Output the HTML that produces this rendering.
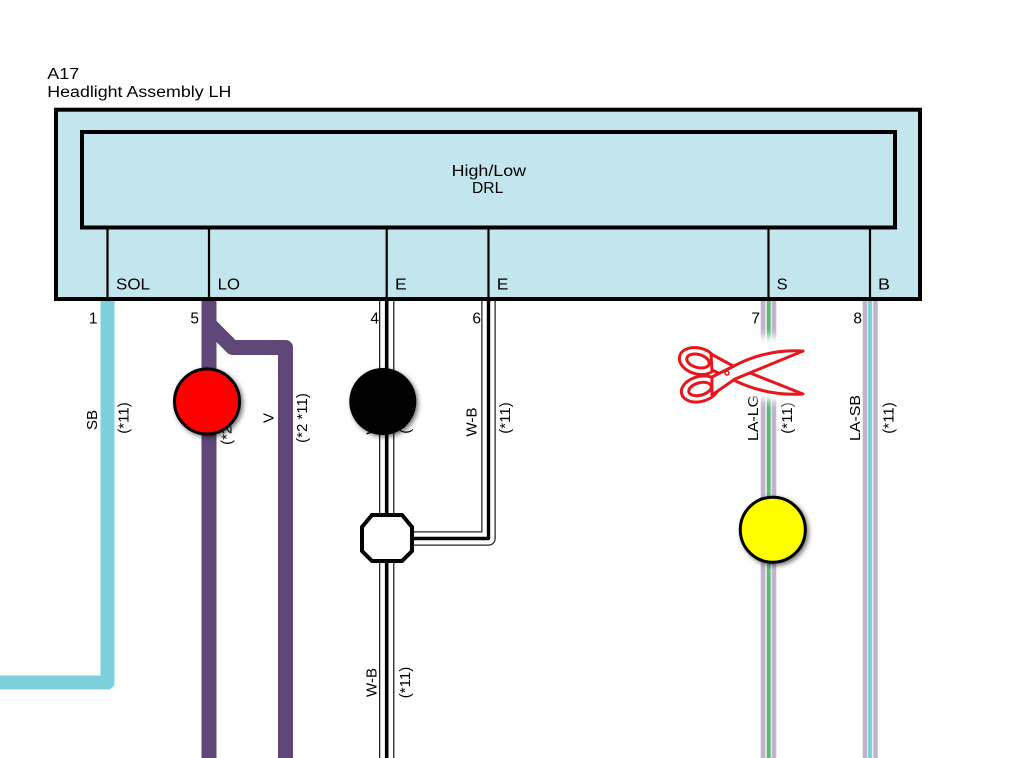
<!DOCTYPE html>
<html>
<head>
<meta charset="utf-8">
<style>
html,body{margin:0;padding:0;background:#fff;}
svg{display:block;}
text{font-family:"Liberation Sans",Arial,sans-serif;font-size:15px;fill:#000;}
text.h{font-size:15.5px;}
</style>
</head>
<body>
<svg width="1009" height="758" viewBox="0 0 1009 758" xmlns="http://www.w3.org/2000/svg">
<defs>
  <filter id="sh" x="-40%" y="-40%" width="180%" height="180%">
    <feDropShadow dx="2" dy="2" stdDeviation="2.5" flood-color="#000" flood-opacity="0.55"/>
  </filter>
  <filter id="glow" x="-60%" y="-60%" width="220%" height="220%">
    <feGaussianBlur stdDeviation="4"/>
  </filter>
</defs>
<rect x="0" y="0" width="1009" height="758" fill="#fff"/>

<!-- Wires -->
<path d="M107.5,298 L107.5,682.5 L0,682.5" fill="none" stroke="#7dd0dc" stroke-width="14" stroke-linejoin="round"/>
<path d="M209,298 L209,758" fill="none" stroke="#5f4878" stroke-width="15"/>
<path d="M209,324 L232.5,347.5 L285.5,347.5 L285.5,758" fill="none" stroke="#5f4878" stroke-width="15" stroke-linejoin="round"/>
<g fill="none">
  <path d="M386.7,298 L386.7,758" stroke="#222" stroke-width="15.4"/>
  <path d="M386.7,298 L386.7,758" stroke="#fff" stroke-width="12.8"/>
  <path d="M386.7,298 L386.7,758" stroke="#000" stroke-width="3.6"/>
</g>
<g fill="none" stroke-linejoin="round">
  <path d="M488.5,298 L488.5,538.5 L395,538.5" stroke="#222" stroke-width="14.5"/>
  <path d="M488.5,298 L488.5,538.5 L395,538.5" stroke="#fff" stroke-width="12"/>
  <path d="M488.5,298 L488.5,538.5 L395,538.5" stroke="#000" stroke-width="3.4"/>
</g>
<g fill="none">
  <path d="M768.5,298 L768.5,758" stroke="#c4b2cd" stroke-width="15.6"/>
  <path d="M768.5,298 L768.5,758" stroke="#fff" stroke-width="6.2"/>
  <path d="M768.7,298 L768.7,758" stroke="#5cb97b" stroke-width="4"/>
</g>
<g fill="none">
  <path d="M870.2,298 L870.2,758" stroke="#c4b2cd" stroke-width="15"/>
  <path d="M870.2,298 L870.2,758" stroke="#fff" stroke-width="6.2"/>
  <path d="M870,298 L870,758" stroke="#7dd0dc" stroke-width="4.4"/>
</g>

<!-- Component box -->
<rect x="56" y="109.7" width="864" height="189.3" fill="#c3e6ee" stroke="#000" stroke-width="4"/>
<rect x="82" y="132" width="813" height="95.5" fill="#c3e6ee" stroke="#000" stroke-width="4"/>
<g stroke="#000" stroke-width="2.2">
  <line x1="107.5" y1="229" x2="107.5" y2="298"/>
  <line x1="209" y1="229" x2="209" y2="298"/>
  <line x1="386.7" y1="229" x2="386.7" y2="298"/>
  <line x1="488.5" y1="229" x2="488.5" y2="298"/>
  <line x1="768.5" y1="229" x2="768.5" y2="298"/>
  <line x1="870" y1="229" x2="870" y2="298"/>
</g>

<!-- Header text -->
<text class="h" x="47.3" y="79" textLength="32" lengthAdjust="spacingAndGlyphs">A17</text>
<text class="h" x="47.3" y="97" textLength="184" lengthAdjust="spacingAndGlyphs">Headlight Assembly LH</text>
<text class="h" x="451.7" y="176" textLength="74.3" lengthAdjust="spacingAndGlyphs">High/Low</text>
<text class="h" x="472" y="193" textLength="31.3" lengthAdjust="spacingAndGlyphs">DRL</text>

<!-- Terminal labels -->
<text class="h" x="116" y="289.5" textLength="34" lengthAdjust="spacingAndGlyphs">SOL</text>
<text class="h" x="217.7" y="289.5" textLength="22.3" lengthAdjust="spacingAndGlyphs">LO</text>
<text class="h" x="395" y="289.5" textLength="11.7" lengthAdjust="spacingAndGlyphs">E</text>
<text class="h" x="496.8" y="289.5" textLength="11.7" lengthAdjust="spacingAndGlyphs">E</text>
<text class="h" x="776.7" y="289.5" textLength="11" lengthAdjust="spacingAndGlyphs">S</text>
<text class="h" x="878" y="289.5" textLength="12" lengthAdjust="spacingAndGlyphs">B</text>

<!-- Pin numbers -->
<text class="h" x="97.5" y="323.5" text-anchor="end">1</text>
<text class="h" x="199" y="323.5" text-anchor="end">5</text>
<text class="h" x="379" y="323.5" text-anchor="end">4</text>
<text class="h" x="481" y="323.5" text-anchor="end">6</text>
<text class="h" x="760" y="323.5" text-anchor="end">7</text>
<text class="h" x="862" y="323.5" text-anchor="end">8</text>

<!-- Wire labels (rotated) -->
<text transform="translate(97,420) rotate(-90)" text-anchor="middle">SB</text>
<text transform="translate(128.5,418) rotate(-90)" text-anchor="middle">(*11)</text>

<text transform="translate(197,418) rotate(-90)" text-anchor="middle">V</text>
<text transform="translate(231.5,420) rotate(-90)" text-anchor="middle">(*2 *11)</text>
<text transform="translate(273.3,418) rotate(-90)" text-anchor="middle">V</text>
<text transform="translate(306.8,418) rotate(-90)" text-anchor="middle">(*2 *11)</text>

<text transform="translate(376.5,420) rotate(-90)" text-anchor="middle">W-B</text>
<text transform="translate(410,418) rotate(-90)" text-anchor="middle">(*11)</text>
<text transform="translate(476.7,422) rotate(-90)" text-anchor="middle">W-B</text>
<text transform="translate(510,418) rotate(-90)" text-anchor="middle">(*11)</text>

<text transform="translate(376.7,682.5) rotate(-90)" text-anchor="middle">W-B</text>
<text transform="translate(410,682.5) rotate(-90)" text-anchor="middle">(*11)</text>

<text transform="translate(758,418) rotate(-90)" text-anchor="middle" textLength="46" lengthAdjust="spacingAndGlyphs">LA-LG</text>
<text transform="translate(792,418) rotate(-90)" text-anchor="middle">(*11)</text>
<text transform="translate(860,418) rotate(-90)" text-anchor="middle" textLength="46" lengthAdjust="spacingAndGlyphs">LA-SB</text>
<text transform="translate(893.5,418) rotate(-90)" text-anchor="middle">(*11)</text>

<!-- Splice octagon -->
<polygon points="372,515 402,515 412,527 412,551 402,561 372,561 362,551 362,527" fill="#fff" stroke="#000" stroke-width="4" stroke-linejoin="miter"/>

<!-- Circles -->
<circle cx="207" cy="401.5" r="32.5" fill="#ff0000" stroke="#000" stroke-width="3" filter="url(#sh)"/>
<circle cx="382.8" cy="401.5" r="33.5" fill="#000" filter="url(#sh)"/>
<circle cx="772.8" cy="529.7" r="32.5" fill="#ffff00" stroke="#000" stroke-width="3" filter="url(#sh)"/>

<!-- Scissors glow -->
<g filter="url(#glow)" fill="#fff" stroke="#fff" stroke-width="18" stroke-linejoin="round">
  <ellipse cx="698" cy="361" rx="19" ry="13" transform="rotate(15 698 361)"/>
  <ellipse cx="700" cy="389" rx="19" ry="12.5" transform="rotate(-15 700 389)"/>
  <path d="M711,354 L735,367 L803,394 Q770,396 740,383 L712,370 Z"/>
  <path d="M712,395 L735,379 L803,351 Q770,349 740,363 L712,377 Z"/>
  <rect x="758" y="345" width="22" height="42"/>
</g>
<g fill="#fff" stroke="#e8161c" stroke-width="3" stroke-linejoin="round">
  <ellipse cx="698" cy="361" rx="19" ry="13" transform="rotate(15 698 361)"/>
  <ellipse cx="698" cy="361" rx="11.5" ry="6.5" transform="rotate(15 698 361)"/>
  <path d="M711,354 L735,367 L803,394 Q770,396 740,383 L712,370 Z"/>
  <ellipse cx="700" cy="389" rx="19" ry="12.5" transform="rotate(-15 700 389)"/>
  <ellipse cx="700" cy="389" rx="11.5" ry="6.2" transform="rotate(-15 700 389)"/>
  <path d="M712,395 L735,379 L803,351 Q770,349 740,363 L712,377 Z"/>
  <circle cx="727" cy="373" r="2" stroke-width="1.5"/>
</g>
</svg>
</body>
</html>
